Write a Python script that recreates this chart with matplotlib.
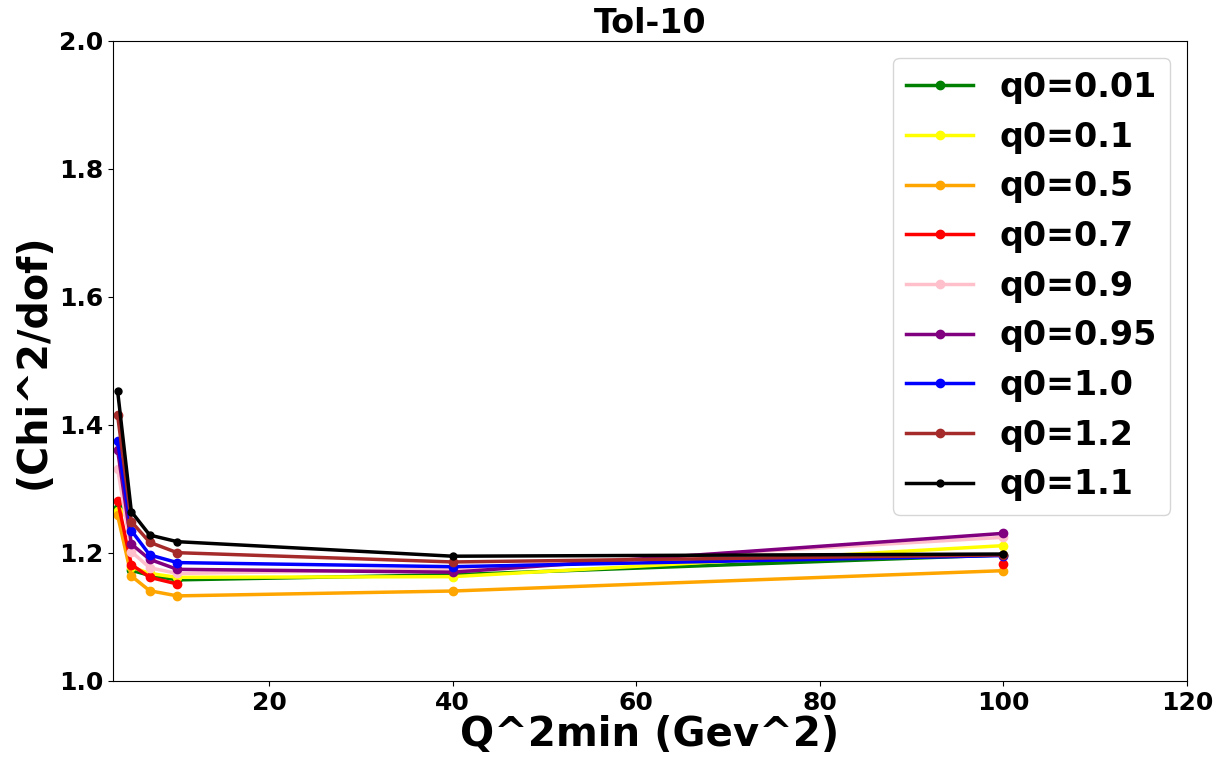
import numpy as np
import matplotlib
matplotlib.use("Agg")
import matplotlib.pyplot as plt

q2min = [3.5, 5, 7, 10, 40, 100]

labels = ["q0=0.01", "q0=0.1", "q0=0.5", "q0=0.7", "q0=0.9",
          "q0=0.95", "q0=1.0", "q0=1.2", "q0=1.1"]
colors = ["green", "yellow", "orange", "red", "pink",
          "purple", "blue", "brown", "black"]

chi_q001 = [1.270, 1.173, 1.165, 1.158, 1.166, 1.197]
chi_q01 = [1.265, 1.178, 1.168, 1.162, 1.163, 1.2115]
chi_q05 = [1.259, 1.164, 1.141, 1.133, 1.1406, 1.1724]
chi_q07 = [1.2818, 1.182, 1.162, 1.1516, np.nan, 1.1823]
chi_q09 = [1.332, 1.202, 1.177, 1.168, 1.175, 1.2245]
chi_q095 = [1.361, 1.214, 1.190, 1.1745, 1.170, 1.2307]
chi_q10 = [1.375, 1.235, 1.197, 1.185, 1.1786, 1.196]
chi_q12 = [1.4156, 1.249, 1.2167, 1.2005, 1.186, 1.197]
chi_q11 = [1.4536, 1.2646, 1.228, 1.2177, 1.195, 1.1984]

series = [chi_q001, chi_q01, chi_q05, chi_q07, chi_q09,
          chi_q095, chi_q10, chi_q12, chi_q11]

fig, ax = plt.subplots(figsize=(12.17, 7.57), dpi=100)
fig.subplots_adjust(left=113/1217, right=1187/1217, top=1-41/757, bottom=1-681/757)

for vals, col, lab in zip(series, colors, labels):
    ms = 5 if col == "black" else 6
    ax.plot(q2min, vals, color=col, marker="o", markersize=ms, linewidth=2.5, label=lab)

ax.set_xlim(3, 120)
ax.set_ylim(1.0, 2.0)
ax.set_xticks([20, 40, 60, 80, 100, 120])
ax.set_yticks([1.0, 1.2, 1.4, 1.6, 1.8, 2.0])
ax.tick_params(labelsize=18)
for t in ax.get_xticklabels() + ax.get_yticklabels():
    t.set_fontweight("bold")

ax.set_title("Tol-10", fontsize=24, fontweight="bold")
ax.set_xlabel("Q^2min (Gev^2)", fontsize=29, fontweight="bold", labelpad=0)
ax.set_ylabel("(Chi^2/dof)", fontsize=28.5, fontweight="bold")

ax.legend(loc="upper right", prop={"size": 24, "weight": "bold"})

fig.savefig("out.png", dpi=100)
